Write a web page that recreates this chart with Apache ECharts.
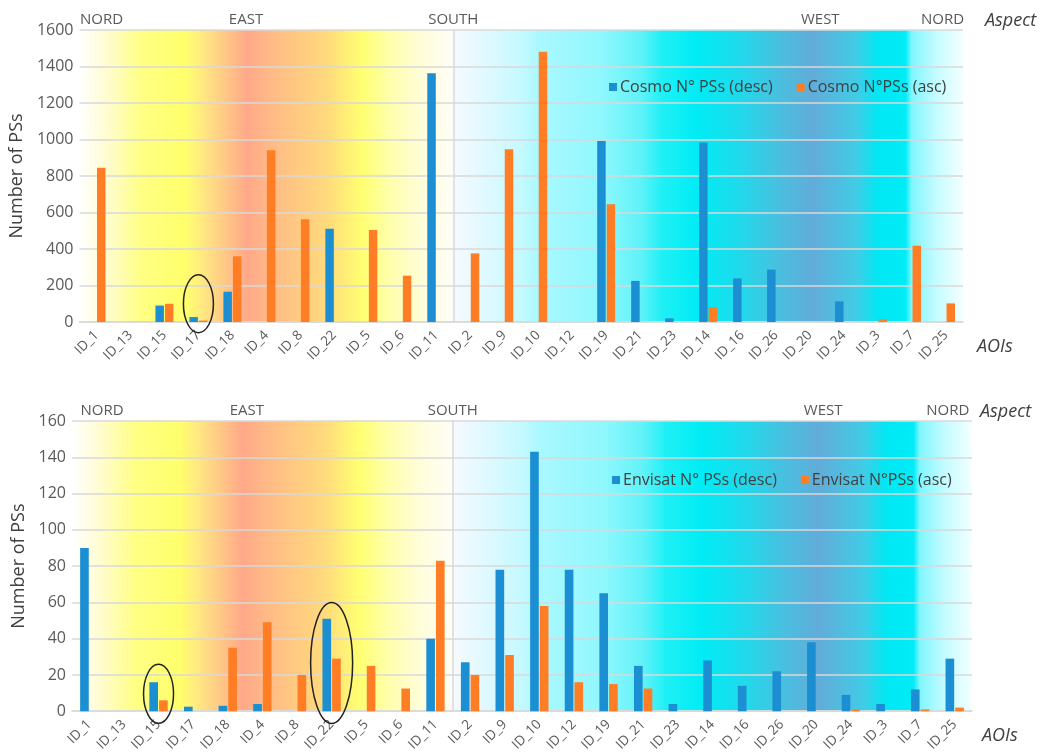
<!DOCTYPE html>
<html>
<head>
<meta charset="utf-8">
<script src="https://cdn.jsdelivr.net/npm/echarts@6/dist/echarts.min.js"></script>
<style>html,body{margin:0;padding:0;background:#fff}#c{width:1044px;height:754px}</style>
</head>
<body>
<div id="c"></div>
<script>
const categories = ['ID_1','ID_13','ID_15','ID_17','ID_18','ID_4','ID_8','ID_22','ID_5','ID_6','ID_11','ID_2','ID_9','ID_10','ID_12','ID_19','ID_21','ID_23','ID_14','ID_16','ID_26','ID_20','ID_24','ID_3','ID_7','ID_25'];
const cosmoDesc = [0,0,90,27,166,0,0,511,0,0,1363,0,0,0,0,992,225,20,983,239,287,0,113,0,0,0];
const cosmoAsc  = [845,0,100,8,360,941,563,0,504,254,0,376,946,1481,0,645,0,0,82,0,0,0,0,15,418,102];
const envDesc   = [90,0,16,2.5,3,4,0,51,0,0,40,27,78,143,78,65,25,4,28,14,22,38,9,4,12,29];
const envAsc    = [0,0,6,0,35,49,20,29,25,12.5,83,20,31,58,16,15,12.5,0,0,0,0,0,1,0,1,2];
const aspectNames = ['NORD','EAST','SOUTH','WEST','NORD'];
const aspectPosTop = [0.65, 4.9, 11.0, 21.8, 25.4];
const aspectPosBottom = [0.87, 5.05, 11.0, 21.7, 25.3];
const southBoundary = [11];
const yTicksTop = {min:0, max:1600, interval:200};
const yTicksBottom = {min:0, max:160, interval:20};
const seriesNames = ['Cosmo N° PSs (desc)','Cosmo N°PSs (asc)','Envisat N° PSs (desc)','Envisat N°PSs (asc)'];

const FONT = 'Open Sans';
const BLUE = '#1b8fd2', ORANGE = '#ff7d24';
const GRID_LINE = '#d9d9d9';

function bgGradient(){
  const stops = [
    [0.0,'#ffffff'],[0.03,'#fffcd2'],[0.07,'#ffff84'],[0.12,'#ffff6c'],[0.14,'#ffe882'],
    [0.19,'#ffa88a'],[0.22,'#ffbc86'],[0.28,'#ffda7c'],[0.32,'#ffff72'],[0.35,'#ffffaa'],
    [0.39,'#fffddc'],[0.421,'#fefef6'],[0.424,'#f6faff'],[0.50,'#c4f9ff'],[0.52,'#aaf8ff'],
    [0.59,'#90f8fe'],[0.635,'#60f2f8'],[0.66,'#1ef0f5'],[0.70,'#00ecf5'],[0.75,'#22d8ea'],[0.79,'#48c0e0'],
    [0.83,'#62acd8'],[0.88,'#40cce6'],[0.905,'#00e8f4'],[0.935,'#00ecf6'],[0.942,'#80f6ff'],
    [0.97,'#c4fcff'],[1.0,'#f4ffff']
  ];
  return new echarts.graphic.LinearGradient(0,0,1,0, stops.map(s=>({offset:s[0], color:s[1]})));
}

function catAxis(gi){
  return {
    type:'category', gridIndex:gi, data:categories, position:'bottom',
    name:'AOIs', nameLocation:'end', nameGap: gi===0?14:10,
    nameTextStyle:{fontFamily:FONT, fontSize:18, fontStyle:'italic', color:'#404040', verticalAlign:'top', padding:[16,0,0,0]},
    axisLine:{show:true, lineStyle:{color:GRID_LINE, width:1.5}},
    axisTick:{show:false},
    axisLabel:{rotate:45, fontFamily:FONT, fontSize:13.5, color:'#595959', margin:11, interval:0},
    splitLine:{show:false}
  };
}
function aspectAxis(gi, pos){
  return {
    type:'value', gridIndex:gi, position:'top', min:0, max:categories.length,
    name:'Aspect', nameLocation:'end', nameGap: gi===0?22:8,
    nameTextStyle:{fontFamily:FONT, fontSize:18, fontStyle:'italic', color:'#404040', verticalAlign:'bottom'},
    axisLine:{show:false},
    axisTick:{show:false, customValues:southBoundary},
    splitLine:{show:true, lineStyle:{color:GRID_LINE, width:1.5}},
    axisLabel:{customValues:pos, margin:3, fontFamily:FONT, fontSize:15, color:'#595959',
      formatter:(v)=>{ for(let i=0;i<pos.length;i++){ if(Math.abs(pos[i]-v)<1e-6) return aspectNames[i]; } return ''; }}
  };
}
function valAxis(gi, t, gap){
  return {
    type:'value', gridIndex:gi, min:t.min, max:t.max, interval:t.interval,
    name:'Number of PSs', nameLocation:'middle', nameGap:gap,
    nameTextStyle:{fontFamily:FONT, fontSize:18, color:'#404040'},
    axisLine:{show:false}, axisTick:{show:false},
    axisLabel:{fontFamily:FONT, fontSize:16, color:'#595959', margin:6, formatter:(v)=>String(v)},
    splitLine:{lineStyle:{color:GRID_LINE, width:1.5}}
  };
}
function bar(name, data, gi, color){
  return {type:'bar', name, data, xAxisIndex:gi, yAxisIndex:gi, barWidth:'25%', barGap:'12%',
    itemStyle:{color}, silent:true, animation:false};
}

const chart = echarts.init(document.getElementById('c'), null, {renderer:'canvas'});
chart.setOption({
  animation:false,
  backgroundColor:'#ffffff',
  textStyle:{fontFamily:FONT},
  grid:[
    {left:77, top:30, width:886, height:292, show:true, backgroundColor:bgGradient(), borderWidth:0},
    {left:72, top:421, width:900, height:292, show:true, backgroundColor:bgGradient(), borderWidth:0}
  ],
  legend:[
    {data:[seriesNames[0],seriesNames[1]], left:604, top:74, icon:'rect', itemWidth:8, itemHeight:8, itemGap:24,
      textStyle:{fontFamily:FONT, fontSize:16, color:'#404040', padding:[0,0,0,-2]}},
    {data:[seriesNames[2],seriesNames[3]], left:607, top:467, icon:'rect', itemWidth:8, itemHeight:8, itemGap:24,
      textStyle:{fontFamily:FONT, fontSize:16, color:'#404040', padding:[0,0,0,-2]}}
  ],
  xAxis:[catAxis(0), catAxis(1), aspectAxis(0, aspectPosTop), aspectAxis(1, aspectPosBottom)],
  yAxis:[valAxis(0, yTicksTop, 48), valAxis(1, yTicksBottom, 43)],
  series:[
    bar(seriesNames[0], cosmoDesc, 0, BLUE),
    bar(seriesNames[1], cosmoAsc, 0, ORANGE),
    bar(seriesNames[2], envDesc, 1, BLUE),
    bar(seriesNames[3], envAsc, 1, ORANGE)
  ]
});

// highlight ellipses (annotations), anchored to category / value coordinates
const highlights = [
  {grid:0, cat:'ID_17', value:100, rx:15, ry:29},
  {grid:1, cat:'ID_15', value:9.6, rx:15, ry:29.5},
  {grid:1, cat:'ID_22', value:26.6, rx:21, ry:60.5}
];
const els = highlights.map(h=>{
  const cx = chart.convertToPixel({xAxisIndex:h.grid}, h.cat);
  const cy = chart.convertToPixel({yAxisIndex:h.grid}, h.value);
  return {type:'ellipse', shape:{cx, cy, rx:h.rx, ry:h.ry}, style:{fill:null, stroke:'#222222', lineWidth:1.5}, z:100, silent:true};
});
chart.setOption({graphic:{elements:els}});
</script>
</body>
</html>
